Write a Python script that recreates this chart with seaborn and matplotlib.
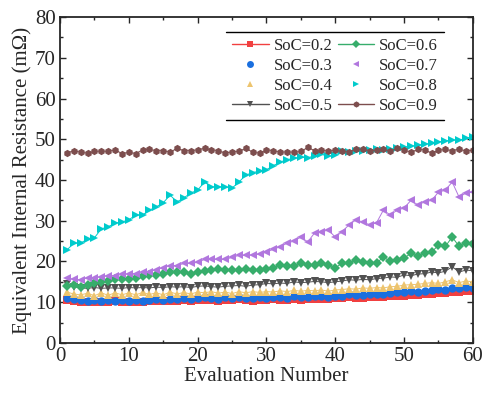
import numpy as np
import pandas as pd
import matplotlib
matplotlib.use('Agg')
import matplotlib.pyplot as plt
from matplotlib.ticker import MultipleLocator
from matplotlib.lines import Line2D
import seaborn as sns

#evaluation numbers
evals = list(range(1, 61))

#equivalent internal resistance (mOhm) for each SoC level
soc_02 = [10.5, 10.2, 10.0, 10.0, 10.1, 10.0, 10.0, 10.2, 10.0, 10.0,
          10.1, 10.0, 10.2, 10.3, 10.2, 10.4, 10.3, 10.5, 10.4, 10.5,
          10.6, 10.5, 10.4, 10.6, 10.5, 10.7, 10.5, 10.4, 10.6, 10.5,
          10.7, 10.6, 10.5, 10.8, 10.6, 10.7, 10.9, 10.8, 10.7, 11.0,
          11.0, 11.2, 11.0, 11.1, 11.2, 11.3, 11.2, 11.4, 11.5, 11.6,
          11.8, 11.7, 12.0, 12.0, 12.3, 12.2, 12.6, 12.5, 12.8, 12.7]
soc_03 = [11.0, 10.8, 10.5, 10.4, 10.5, 10.4, 10.5, 10.4, 10.5, 10.3,
          10.5, 10.4, 10.6, 10.8, 10.5, 10.9, 10.7, 11.0, 10.8, 11.0,
          11.2, 11.0, 10.9, 11.2, 11.0, 11.3, 11.0, 11.1, 11.2, 11.0,
          11.3, 11.2, 11.1, 11.6, 11.3, 11.2, 11.4, 11.5, 11.3, 11.6,
          11.5, 11.9, 11.7, 11.8, 12.0, 11.9, 12.1, 12.3, 12.4, 12.4,
          12.7, 12.5, 12.8, 13.0, 13.2, 13.1, 13.6, 13.4, 13.7, 13.5]
soc_04 = [12.5, 12.0, 11.8, 12.2, 11.6, 12.3, 11.7, 12.3, 11.8, 12.3,
          11.8, 12.4, 11.9, 12.3, 11.8, 12.5, 12.0, 12.4, 12.0, 12.5,
          12.3, 12.6, 12.2, 12.5, 12.1, 12.6, 12.3, 12.6, 12.4, 12.6,
          12.5, 12.8, 12.6, 12.9, 12.7, 12.9, 12.8, 13.0, 12.7, 13.0,
          13.1, 13.3, 13.2, 13.5, 13.4, 13.6, 13.5, 13.8, 13.9, 14.2,
          14.3, 14.4, 14.6, 14.8, 14.6, 15.0, 15.5, 14.8, 15.2, 15.0]
soc_05 = [14.5, 13.8, 13.5, 13.4, 13.6, 13.4, 13.5, 13.5, 13.4, 13.6,
          13.5, 13.6, 13.5, 13.7, 13.6, 13.8, 13.7, 13.8, 13.6, 13.9,
          14.0, 13.8, 13.7, 13.9, 14.0, 14.1, 13.9, 14.2, 14.3, 14.6,
          14.5, 14.7, 14.6, 15.0, 14.8, 14.9, 15.1, 15.0, 14.8, 15.0,
          15.2, 15.5, 15.4, 15.6, 15.5, 15.8, 15.9, 16.2, 16.1, 16.7,
          16.5, 16.9, 17.0, 17.4, 17.2, 17.6, 18.7, 17.4, 17.9, 17.7]
soc_06 = [13.9, 14.2, 13.8, 14.1, 14.7, 15.0, 15.3, 15.6, 15.8, 15.8,
          16.0, 16.4, 16.7, 16.7, 17.0, 17.4, 17.4, 17.3, 17.0, 17.4,
          17.6, 17.9, 18.2, 18.0, 17.9, 18.0, 18.1, 17.9, 17.9, 18.2,
          18.5, 19.1, 18.8, 19.0, 19.6, 19.2, 19.2, 19.6, 19.2, 18.4,
          19.6, 19.6, 20.4, 19.8, 19.6, 19.6, 21.1, 20.0, 20.4, 20.8,
          22.0, 21.3, 22.0, 22.3, 24.0, 23.7, 26.0, 23.7, 24.5, 24.3]
soc_07 = [16.0, 15.6, 15.5, 16.0, 16.0, 16.3, 16.5, 16.5, 16.8, 17.0,
          17.0, 17.3, 17.5, 18.0, 18.5, 19.0, 19.0, 19.5, 19.5, 19.8,
          20.5, 20.5, 20.5, 20.5, 21.0, 21.5, 21.5, 21.6, 21.8, 22.3,
          23.0, 23.6, 24.5, 25.0, 26.0, 24.8, 27.0, 27.3, 27.7, 26.0,
          27.3, 29.0, 30.2, 29.7, 29.0, 29.5, 32.6, 31.4, 32.6, 33.1,
          35.0, 33.9, 34.6, 35.0, 37.0, 37.5, 39.5, 35.8, 36.8, 37.0]
soc_08 = [22.8, 24.5, 24.5, 25.5, 25.8, 28.0, 28.5, 29.4, 29.7, 30.2,
          31.4, 31.4, 32.6, 33.4, 34.4, 36.3, 34.6, 35.6, 36.8, 37.5,
          39.5, 38.3, 38.3, 38.3, 38.0, 39.5, 41.2, 41.8, 42.2, 42.5,
          43.5, 44.4, 45.0, 45.3, 45.6, 45.4, 46.0, 46.3, 45.8, 46.1,
          47.0, 46.8, 47.2, 47.0, 47.3, 47.5, 47.4, 47.6, 47.8, 48.0,
          48.3, 48.5, 48.8, 49.0, 49.4, 49.6, 49.8, 49.8, 50.2, 50.6]
soc_09 = [46.6, 47.2, 46.8, 46.6, 47.0, 47.1, 47.0, 47.4, 46.5, 46.8,
          46.5, 47.4, 47.5, 47.2, 47.2, 46.8, 47.8, 47.2, 47.2, 47.4,
          47.8, 47.4, 47.2, 46.6, 46.9, 47.0, 47.8, 46.8, 46.6, 47.4,
          47.2, 46.8, 46.9, 46.8, 47.0, 48.0, 47.2, 47.3, 47.1, 47.3,
          47.0, 46.9, 47.6, 47.5, 47.2, 47.3, 47.5, 47.1, 47.8, 47.4,
          46.8, 47.5, 47.4, 46.6, 47.3, 47.5, 47.2, 47.6, 47.1, 47.3]

labels = ['SoC=0.2', 'SoC=0.3', 'SoC=0.4', 'SoC=0.5',
          'SoC=0.6', 'SoC=0.7', 'SoC=0.8', 'SoC=0.9']
series = [soc_02, soc_03, soc_04, soc_05, soc_06, soc_07, soc_08, soc_09]

#Origin-like colors and marker cycle
colors = ['#F14040', '#1A6FDF', '#EDC46E', '#515151',
          '#37AD6B', '#B177DE', '#00CBCC', '#7D4E4E']
markers = ['s', 'o', '^', 'v', 'D', '<', '>', 'h']
#which legend entries show their line
legend_line = [True, False, False, True, True, False, False, True]

sns.set_style("ticks")
plt.rcParams['font.family'] = ['Liberation Serif', 'DejaVu Serif']
plt.rcParams['mathtext.fontset'] = 'stix'

fig = plt.figure(figsize=(4.82, 3.96), dpi=100)
ax = fig.add_axes([0.1245, 0.134, 0.8565, 0.823])

for k in range(len(series)):
    df = pd.DataFrame({'Evaluation': evals, 'R': series[k]})
    msize = 5.3 if markers[k] in ('D', 'h') else 6.0
    sns.lineplot(data=df, x='Evaluation', y='R', ax=ax, color=colors[k],
                 marker=markers[k], markersize=msize, markeredgewidth=0,
                 linewidth=0.7, legend=False)

#legend with custom handles
handles = []
for k in range(len(labels)):
    ls = '-' if legend_line[k] else 'none'
    msize = 4.5 if markers[k] in ('D', 'h') else 5
    handles.append(Line2D([], [], color=colors[k], marker=markers[k],
                          markersize=msize, markeredgewidth=0,
                          linestyle=ls, linewidth=1.0))
leg = ax.legend(handles, labels, ncol=2, loc='upper right',
                bbox_to_anchor=(0.93, 0.955), borderaxespad=0,
                frameon=False, fontsize=12, handlelength=2.2,
                handletextpad=0.3, columnspacing=0.3, labelspacing=0.25,
                borderpad=0.35)

#axes formatting
ax.set_xlim(0, 60)
ax.set_ylim(0, 80)
ax.xaxis.set_major_locator(MultipleLocator(10))
ax.xaxis.set_minor_locator(MultipleLocator(5))
ax.yaxis.set_major_locator(MultipleLocator(10))
ax.yaxis.set_minor_locator(MultipleLocator(5))
ax.tick_params(which='both', direction='in', top=True, right=True,
               width=1.0, labelsize=15, pad=3)
ax.tick_params(which='major', length=4)
ax.tick_params(which='minor', length=2.5)
for sp in ax.spines.values():
    sp.set_linewidth(1.3)
ax.set_xlabel('Evaluation Number', fontsize=15, labelpad=1)
ax.set_ylabel('Equivalent Internal Resistance (m\u03a9)', fontsize=15, labelpad=2)

#top and bottom rule lines of the legend
fig.canvas.draw()
bb = leg.get_window_extent().transformed(ax.transAxes.inverted())
for yy in (bb.y0, bb.y1):
    ax.plot([bb.x0, bb.x1], [yy, yy], transform=ax.transAxes,
            color='black', linewidth=1.0, clip_on=False)

plt.savefig('out.png', dpi=100)
